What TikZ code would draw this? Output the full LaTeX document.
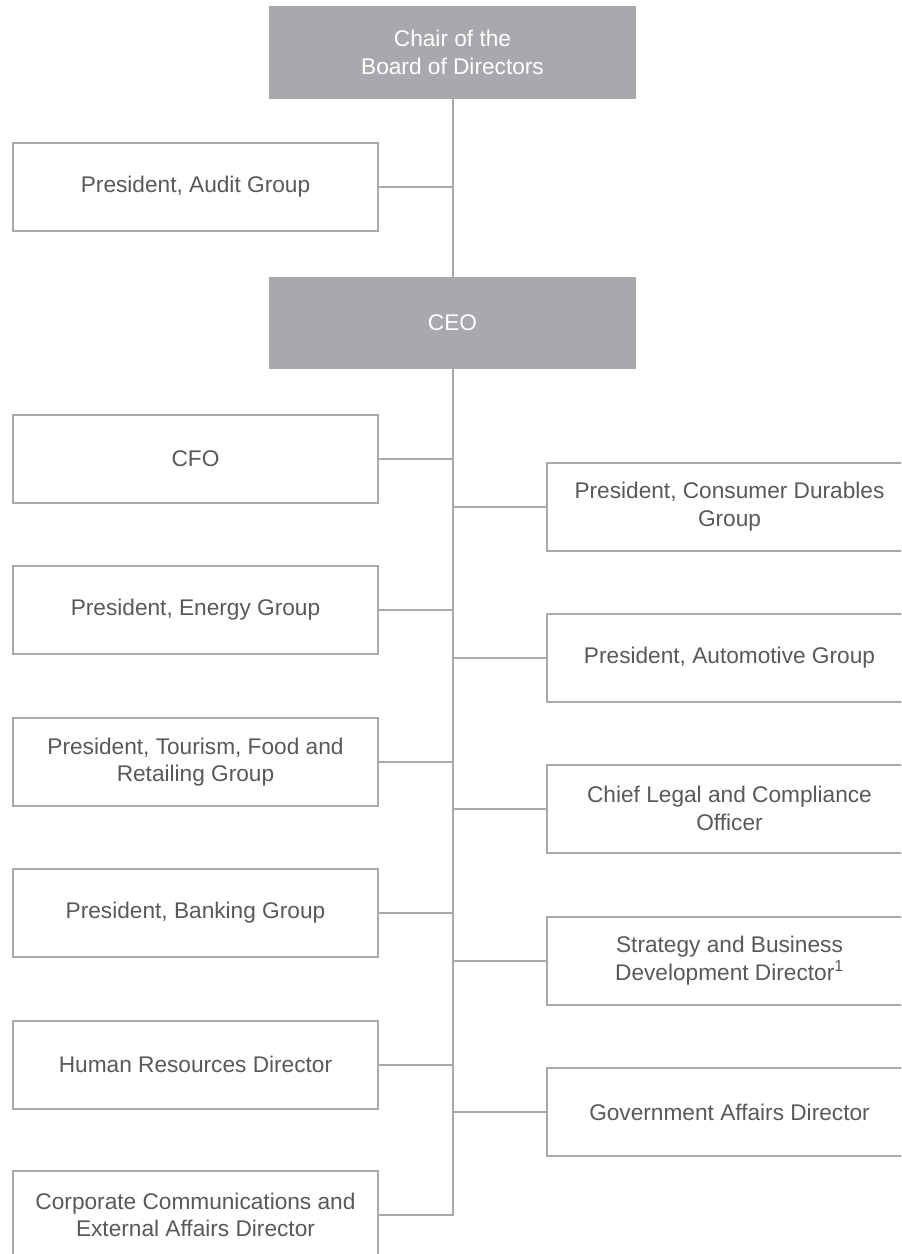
\documentclass[tikz,border=0pt]{standalone}
\usepackage{fontspec}
\setmainfont{Liberation Sans}
\usepackage{xcolor}
\usepackage{tikz}

\definecolor{boxgray}{RGB}{167,169,172}
\definecolor{textgray}{RGB}{88,89,91}

\tikzset{
  post/.style={draw=boxgray, line width=1.5, fill=white, text=textgray,
    minimum width=273.75pt, minimum height=66pt, inner sep=0pt,
    align=center, font=\fontsize{17}{20.5}\selectfont},
  head/.style={post, fill=boxgray, text=white, minimum height=68pt},
  link/.style={draw=boxgray, line width=1.5},
}

\begin{document}
\begin{tikzpicture}[x=0.75pt,y=0.75pt,yscale=-1,xscale=1]
% page is 901 x 1254, boxes running off the right and bottom edges are cut
\clip (0,0) rectangle (901,1254);

% Top of the chart
\node [head] (chair) at (452.5,52.5) {Chair of the\\Board of Directors};
\node [head] (ceo) at (452.5,323) {CEO};
\node [post] (audit) at (195.5,186.5) {President, Audit Group};

% Left column
\node [post] (cfo) at (195.5,458.5) {CFO};
\node [post] (energy) at (195.5,610) {President, Energy Group};
\node [post] (tourism) at (195.5,762) {President, Tourism, Food and\\Retailing Group};
\node [post] (banking) at (195.5,913) {President, Banking Group};
\node [post] (hr) at (195.5,1064.5) {Human Resources Director};
\node [post] (corp) at (195.5,1215) {Corporate Communications and\\External Affairs Director};

% Right column
\node [post] (durables) at (729.5,506.5) {President, Consumer Durables\\Group};
\node [post] (auto) at (729.5,657.5) {President, Automotive Group};
\node [post] (legal) at (729.5,808.5) {Chief Legal and Compliance\\Officer};
\node [post] (strategy) at (729.5,960.5) {Strategy and Business\\Development Director\textsuperscript{1}};
\node [post] (gov) at (729.5,1112) {Government Affairs Director};

% Spine
\draw [link] (chair) -- (ceo);
\draw [link] (ceo) |- (corp);

% Branches off the spine
\foreach \n in {audit,cfo,energy,tourism,banking,hr,durables,auto,legal,strategy,gov}
  \draw [link] (\n) -- (\n -| ceo);

\end{tikzpicture}
\end{document}
